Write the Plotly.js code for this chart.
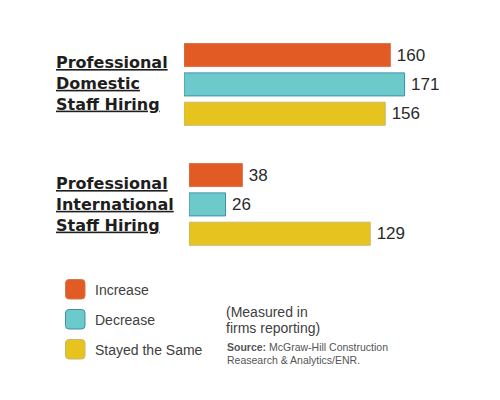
<!DOCTYPE html>
<html>
<head>
<meta charset="utf-8">
<script src="https://cdn.plot.ly/plotly-3.0.1.min.js"></script>
<style>
  html, body { margin: 0; padding: 0; background: #ffffff; }
  #chart { width: 500px; height: 400px; }
</style>
</head>
<body>
<div id="chart"></div>
<script>
// Hiring outcomes, counted in firms reporting
const groups = ['Professional<br>Domestic<br>Staff Hiring', 'Professional<br>International<br>Staff Hiring'];
const seriesNames = ['Increase', 'Decrease', 'Stayed the Same'];
const domesticValues = [160, 171, 156];
const internationalValues = [38, 26, 129];
const fillColors = ['#e25a24', '#6ccaca', '#e6c31f'];
const edgeColors = ['#d6764a', '#3f8fae', '#c9b86a'];
const noteLines = ['(Measured in', 'firms reporting)'];
const sourceLines = ['<b>Source:</b> McGraw-Hill Construction', 'Reasearch & Analytics/ENR.'];

const W = 500, H = 400;
const px = v => v / W;          // pixel -> paper x
const py = v => 1 - v / H;      // pixel -> paper y

const valueFont = { family: 'Liberation Sans, Arial, sans-serif', size: 17, color: '#2a2a2a' };

function barTrace(values, xa, ya) {
  return {
    type: 'bar',
    orientation: 'h',
    x: values,
    y: seriesNames,
    xaxis: xa,
    yaxis: ya,
    marker: { color: fillColors, line: { color: edgeColors, width: 1 } },
    // thin space keeps the number a little clear of the bar end
    texttemplate: '\u2009%{x}',
    textposition: 'outside',
    constraintext: 'none',
    cliponaxis: false,
    outsidetextfont: valueFont,
    hoverinfo: 'skip',
    showlegend: false
  };
}

const data = [
  barTrace(domesticValues, 'x', 'y'),
  barTrace(internationalValues, 'x2', 'y2')
];

const hiddenX = { showgrid: false, zeroline: false, showticklabels: false, showline: false, ticks: '' };
const hiddenY = { showgrid: false, zeroline: false, showticklabels: false, showline: false, ticks: '',
                  type: 'category', autorange: 'reversed', fixedrange: true };

// rounded legend swatch as an SVG path in paper coordinates
function roundedSquare(x0, y0, s, r) {
  const x1 = x0 + s, y1 = y0 + s;
  const P = (x, y) => px(x) + ',' + py(y);
  return 'M' + P(x0 + r, y0) + ' L' + P(x1 - r, y0) + ' Q' + P(x1, y0) + ' ' + P(x1, y0 + r) +
         ' L' + P(x1, y1 - r) + ' Q' + P(x1, y1) + ' ' + P(x1 - r, y1) +
         ' L' + P(x0 + r, y1) + ' Q' + P(x0, y1) + ' ' + P(x0, y1 - r) +
         ' L' + P(x0, y0 + r) + ' Q' + P(x0, y0) + ' ' + P(x0 + r, y0) + ' Z';
}

const shapes = seriesNames.map((name, i) => ({
  type: 'path', xref: 'paper', yref: 'paper',
  path: roundedSquare(65.5, 279.5 + i * 30, 19.5, 3.5),
  fillcolor: fillColors[i],
  line: { color: edgeColors[i], width: 1 }
}));

const labelFont = { family: 'DejaVu Sans, sans-serif', size: 16, color: '#1e1e1e', weight: 'bold', lineposition: 'under' };
const legendFont = { family: 'Liberation Sans, Arial, sans-serif', size: 14, color: '#404040' };
const noteFont = { family: 'Liberation Sans, Arial, sans-serif', size: 14, color: '#404040' };
const sourceFont = { family: 'Liberation Sans, Arial, sans-serif', size: 10.5, color: '#555555' };

const annotations = [];
const groupCenters = [84, 204];
groups.forEach((g, i) => annotations.push({
  xref: 'paper', yref: 'paper', x: px(54), y: py(groupCenters[i]),
  xanchor: 'left', yanchor: 'middle', align: 'left', showarrow: false,
  text: g, font: labelFont
}));
seriesNames.forEach((name, i) => annotations.push({
  xref: 'paper', yref: 'paper', x: px(93), y: py(290 + i * 30),
  xanchor: 'left', yanchor: 'middle', align: 'left', showarrow: false,
  text: name, font: legendFont
}));
noteLines.forEach((t, i) => annotations.push({
  xref: 'paper', yref: 'paper', x: px(224), y: py(312 + i * 15.6),
  xanchor: 'left', yanchor: 'middle', align: 'left', showarrow: false,
  text: t, font: noteFont
}));
sourceLines.forEach((t, i) => annotations.push({
  xref: 'paper', yref: 'paper', x: px(225), y: py(347 + i * 12.6),
  xanchor: 'left', yanchor: 'middle', align: 'left', showarrow: false,
  text: t, font: sourceFont
}));

const layout = {
  width: W, height: H,
  margin: { l: 0, r: 0, t: 0, b: 0, pad: 0 },
  paper_bgcolor: '#ffffff', plot_bgcolor: '#ffffff',
  bargap: 0.215,
  showlegend: false,
  xaxis: Object.assign({ domain: [px(184), 1], range: [0, 316 / 1.29] }, hiddenX),
  yaxis: Object.assign({ domain: [py(128.4), py(40.4)], anchor: 'x' }, hiddenY),
  xaxis2: Object.assign({ domain: [px(189), 1], range: [0, 311 / 1.405], anchor: 'y2' }, hiddenX),
  yaxis2: Object.assign({ domain: [py(248.4), py(160.4)], anchor: 'x2' }, hiddenY),
  shapes: shapes,
  annotations: annotations
};

Plotly.newPlot('chart', data, layout, { staticPlot: true, displayModeBar: false });
</script>
</body>
</html>
